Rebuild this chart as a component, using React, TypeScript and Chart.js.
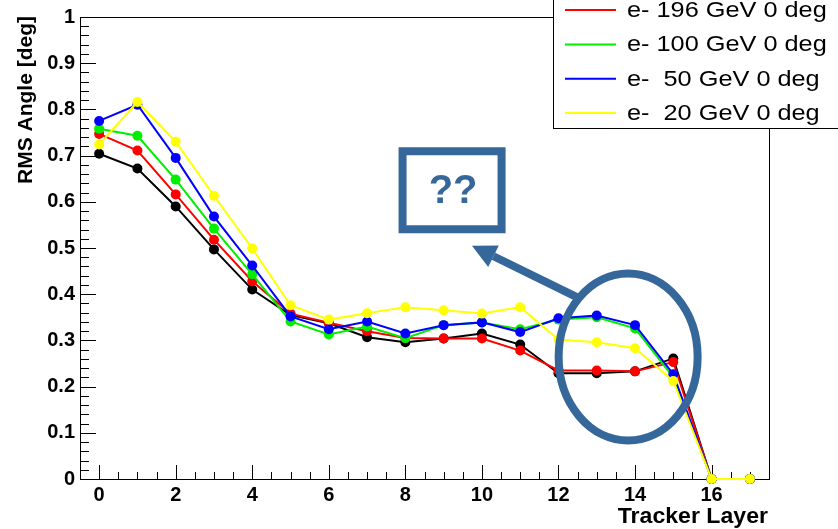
import { useEffect, useRef } from "react";
import { Chart, registerables } from "chart.js";

Chart.register(...registerables);

// ---- data ----
const LAYERS = [0, 1, 2, 3, 4, 5, 6, 7, 8, 9, 10, 11, 12, 13, 14, 15, 16, 17];
const BLACK_SERIES = [0.704, 0.672, 0.59, 0.497, 0.41, 0.355, 0.337, 0.307, 0.296, 0.304, 0.315, 0.291, 0.229, 0.229, 0.233, 0.261, 0, 0];
const E196 = [0.747, 0.711, 0.616, 0.518, 0.428, 0.358, 0.338, 0.32, 0.305, 0.304, 0.304, 0.278, 0.235, 0.235, 0.233, 0.253, 0, 0];
const E100 = [0.758, 0.743, 0.648, 0.542, 0.443, 0.341, 0.313, 0.33, 0.305, 0.333, 0.339, 0.324, 0.345, 0.35, 0.326, 0.22, 0, 0];
const E50 = [0.775, 0.81, 0.695, 0.568, 0.462, 0.352, 0.324, 0.341, 0.315, 0.333, 0.339, 0.318, 0.348, 0.354, 0.333, 0.227, 0, 0];
const E20 = [0.724, 0.816, 0.73, 0.613, 0.499, 0.376, 0.345, 0.359, 0.372, 0.365, 0.358, 0.372, 0.302, 0.296, 0.283, 0.212, 0, 0];

const LEGEND_LABELS = ["e- 196 GeV 0 deg", "e- 100 GeV 0 deg", "e-  50 GeV 0 deg", "e-  20 GeV 0 deg"];
const X_TICK_LABELS = [0, 2, 4, 6, 8, 10, 12, 14, 16];
const Y_TICK_LABELS = [0, 0.1, 0.2, 0.3, 0.4, 0.5, 0.6, 0.7, 0.8, 0.9, 1];
const X_TITLE = "Tracker Layer";
const Y_TITLE = "RMS Angle [deg]";
const NOTE_TEXT = "??";

// annotation anchors in data units
const NOTE_BOX_CENTER = { x: 9.22, y: 0.625 };
const ELLIPSE_CENTER = { x: 13.82, y: 0.264 };
const ARROW_FROM = { x: 12.52, y: 0.392 };
const ARROW_TO = { x: 9.74, y: 0.505 };

const FONT = "'Liberation Sans', Arial, Helvetica, sans-serif";
const NOTE_COLOR = "#36679a";

const rootPlugin = {
  id: "rootDecor",
  beforeDatasetsDraw(chart: any) {
    const { ctx, chartArea: a, scales } = chart;
    const x = scales.x;
    const y = scales.y;
    ctx.save();
    ctx.strokeStyle = "#000";
    ctx.lineWidth = 1;
    ctx.strokeRect(a.left + 0.5, a.top + 0.5, a.right - a.left, a.bottom - a.top);
    ctx.beginPath();
    for (let i = 0; i <= 36; i++) {
      const v = -0.5 + i * 0.5;
      if (v <= x.min || v >= x.max) continue;
      const px = Math.round(x.getPixelForValue(v)) + 0.5;
      const len = v % 2 === 0 ? 14 : 7;
      ctx.moveTo(px, a.bottom);
      ctx.lineTo(px, a.bottom - len);
    }
    for (let i = 0; i <= 50; i++) {
      const v = i * 0.02;
      const py = Math.round(y.getPixelForValue(v)) + 0.5;
      const len = i % 5 === 0 ? 16 : 9;
      ctx.moveTo(a.left, py);
      ctx.lineTo(a.left + len, py);
    }
    ctx.stroke();
    ctx.restore();
  },
  afterDraw(chart: any) {
    const { ctx, chartArea: a, scales } = chart;
    const x = scales.x;
    const y = scales.y;
    ctx.save();

    // axis titles
    ctx.fillStyle = "#000";
    ctx.font = `bold 22px ${FONT}`;
    ctx.textAlign = "right";
    ctx.textBaseline = "alphabetic";
    ctx.save();
    ctx.translate(a.right - 1, 523);
    ctx.scale(1.05, 1);
    ctx.fillText(X_TITLE, 0, 0);
    ctx.restore();
    ctx.font = `bold 21px ${FONT}`;
    ctx.save();
    ctx.translate(32, a.top - 1);
    ctx.rotate(-Math.PI / 2);
    ctx.textAlign = "right";
    ctx.fillText(Y_TITLE, 0, 0);
    ctx.restore();

    // annotations
    ctx.strokeStyle = NOTE_COLOR;
    ctx.fillStyle = NOTE_COLOR;
    ctx.lineWidth = 8;
    const ex = x.getPixelForValue(ELLIPSE_CENTER.x);
    const ey = y.getPixelForValue(ELLIPSE_CENTER.y);
    ctx.beginPath();
    ctx.ellipse(ex, ey, 69.5, 83.5, 0, 0, Math.PI * 2);
    ctx.stroke();
    const ax0 = x.getPixelForValue(ARROW_FROM.x);
    const ay0 = y.getPixelForValue(ARROW_FROM.y);
    const ax1 = x.getPixelForValue(ARROW_TO.x);
    const ay1 = y.getPixelForValue(ARROW_TO.y);
    const ang = Math.atan2(ay1 - ay0, ax1 - ax0);
    const headLen = 24;
    const headHalf = 12;
    const bx = ax1 - headLen * Math.cos(ang);
    const by = ay1 - headLen * Math.sin(ang);
    ctx.beginPath();
    ctx.moveTo(ax0, ay0);
    ctx.lineTo(bx, by);
    ctx.stroke();
    ctx.beginPath();
    ctx.moveTo(ax1, ay1);
    ctx.lineTo(bx + headHalf * Math.sin(ang), by - headHalf * Math.cos(ang));
    ctx.lineTo(bx - headHalf * Math.sin(ang), by + headHalf * Math.cos(ang));
    ctx.closePath();
    ctx.fill();
    const cx = x.getPixelForValue(NOTE_BOX_CENTER.x);
    const cy = y.getPixelForValue(NOTE_BOX_CENTER.y);
    ctx.strokeRect(cx - 49.5, cy - 39, 99, 78);
    ctx.font = `bold 40px ${FONT}`;
    ctx.textAlign = "center";
    ctx.textBaseline = "middle";
    ctx.fillText(NOTE_TEXT, cx + 1, cy + 2);

    // legend (top entry lies above the canvas)
    const lx = 553;
    const lBottom = 128;
    ctx.fillStyle = "#fff";
    ctx.fillRect(lx, -20, 300, lBottom + 20);
    ctx.strokeStyle = "#000";
    ctx.lineWidth = 1;
    ctx.strokeRect(lx + 0.5, -20, 300, lBottom + 20.5);
    const items = chart.data.datasets.filter((d: any) => d.label);
    const n = items.length;
    items.forEach((d: any, i: number) => {
      const yy = lBottom - 15 - (n - 1 - i) * 34.3;
      ctx.strokeStyle = d.borderColor;
      ctx.lineWidth = 2;
      ctx.beginPath();
      ctx.moveTo(565, yy);
      ctx.lineTo(616, yy);
      ctx.stroke();
      ctx.save();
      ctx.translate(627, yy);
      ctx.scale(1.15, 1);
      ctx.fillStyle = "#000";
      ctx.font = `22px ${FONT}`;
      ctx.textAlign = "left";
      ctx.textBaseline = "middle";
      ctx.fillText(d.label, 0, 1);
      ctx.restore();
    });

    ctx.restore();
  },
};

function series(label: string, data: number[], color: string, order: number) {
  return {
    label,
    data: LAYERS.map((l, i) => ({ x: l, y: data[i] })),
    borderColor: color,
    backgroundColor: color,
    borderWidth: 2,
    pointRadius: 5,
    pointBorderWidth: 0,
    pointBackgroundColor: color,
    tension: 0,
    clip: false,
    order,
  };
}

export default function App() {
  const ref = useRef<HTMLCanvasElement | null>(null);
  useEffect(() => {
    document.body.style.margin = "0";
    if (!ref.current) return;
    const chart = new Chart(ref.current, {
      type: "line",
      data: {
        datasets: [
          series("", BLACK_SERIES, "#000000", 4),
          series(LEGEND_LABELS[0], E196, "#ff0000", 3),
          series(LEGEND_LABELS[1], E100, "#00ee00", 2),
          series(LEGEND_LABELS[2], E50, "#0000ff", 1),
          series(LEGEND_LABELS[3], E20, "#ffff00", 0),
        ] as any,
      },
      options: {
        animation: false,
        responsive: false,
        devicePixelRatio: 1,
        layout: { padding: { top: 13, right: 69, left: 0, bottom: 0 } },
        plugins: { legend: { display: false }, tooltip: { enabled: false } },
        scales: {
          x: {
            type: "linear",
            min: -0.5,
            max: 17.5,
            grid: { display: false, drawTicks: false },
            border: { display: false },
            afterBuildTicks: (s: any) => {
              s.ticks = X_TICK_LABELS.map((v) => ({ value: v }));
            },
            afterFit: (s: any) => {
              s.height = 50;
            },
            ticks: {
              autoSkip: false,
              maxRotation: 0,
              padding: 4,
              color: "#000",
              font: { family: FONT, size: 20, weight: "bold" },
              callback: (v: any) => String(v),
            },
          },
          y: {
            type: "linear",
            min: 0,
            max: 1,
            grid: { display: false, drawTicks: false },
            border: { display: false },
            afterBuildTicks: (s: any) => {
              s.ticks = Y_TICK_LABELS.map((v) => ({ value: v }));
            },
            afterFit: (s: any) => {
              s.width = 80;
            },
            ticks: {
              autoSkip: false,
              padding: 5,
              color: "#000",
              font: { family: FONT, size: 20, weight: "bold" },
              callback: (v: any) => (v === 0 ? "0" : v === 1 ? "1" : Number(v).toFixed(1)),
            },
          },
        },
      } as any,
      plugins: [rootPlugin],
    });
    return () => chart.destroy();
  }, []);
  return (
    <div style={{ width: 838, height: 529, background: "#fff" }}>
      <canvas ref={ref} width={838} height={529} style={{ display: "block" }} />
    </div>
  );
}
